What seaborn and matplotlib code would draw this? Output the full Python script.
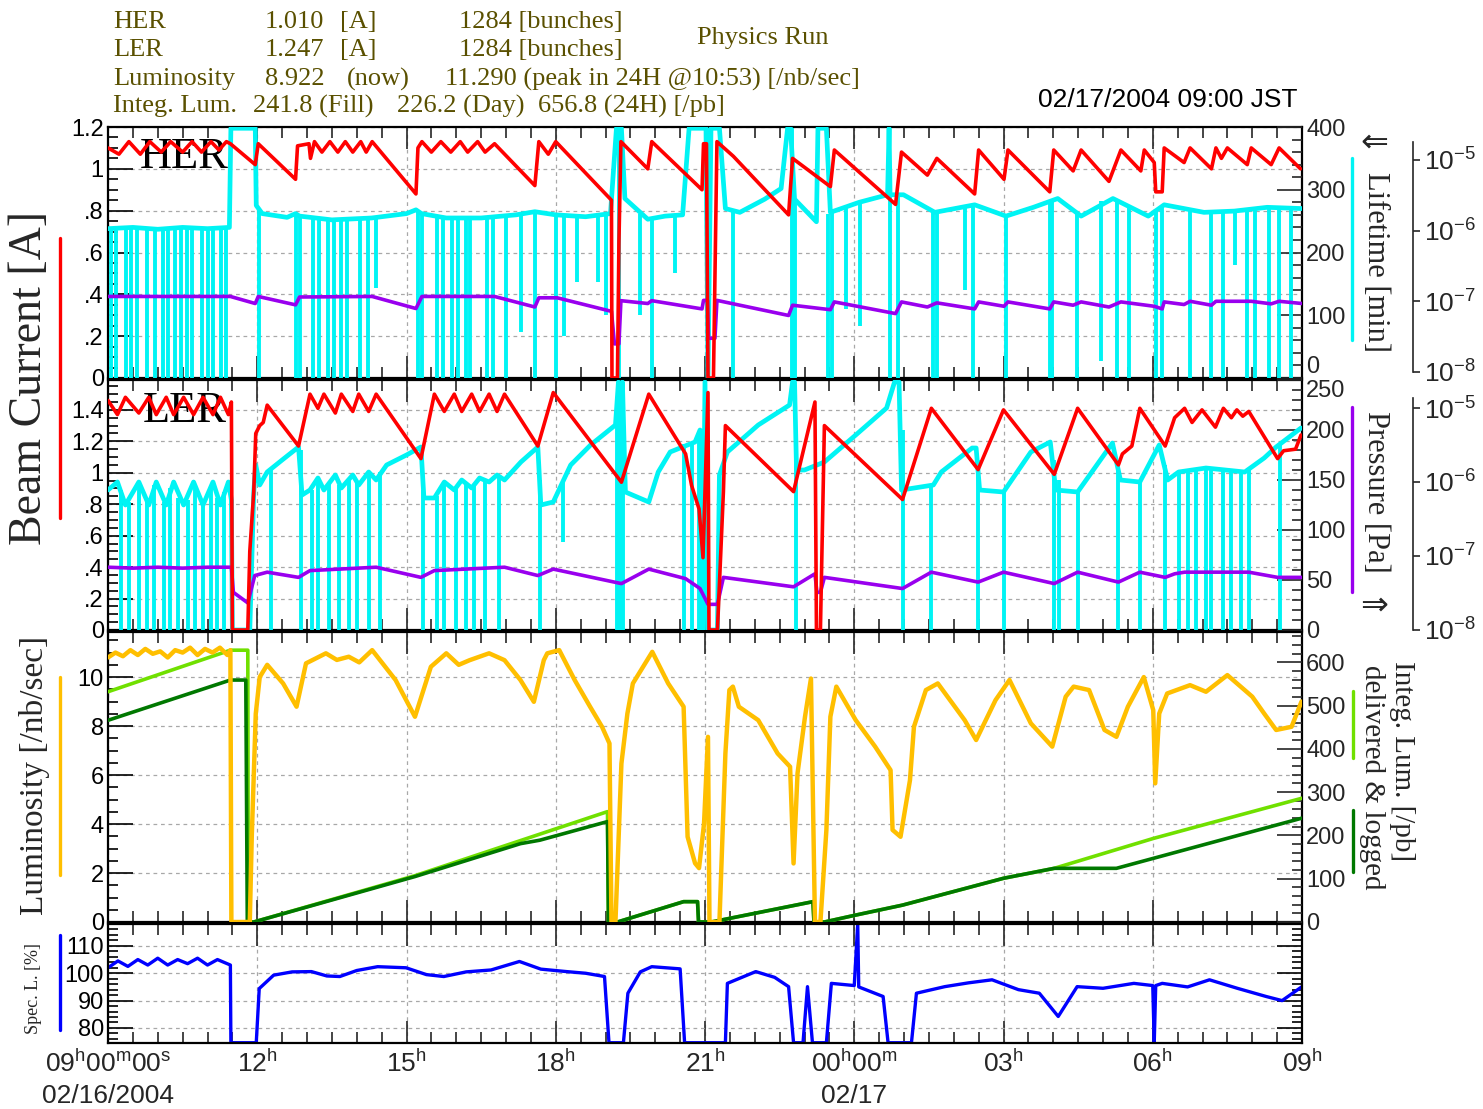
import numpy as np
import matplotlib
matplotlib.use("Agg")
import matplotlib.pyplot as plt
from matplotlib.lines import Line2D
from matplotlib.ticker import MultipleLocator, FixedLocator, NullLocator, LogFormatterSciNotation
import seaborn as sns

# ------------------------------------------------------------------
# Data.  Time = hours after 09:00 JST 02/16/2004
# ------------------------------------------------------------------
HER_CURRENT = [(0.00,1.10),(0.22,1.07),(0.42,1.13),(0.65,1.07),(0.84,1.13),(1.07,1.08),(1.26,1.13),(1.50,1.08),
 (1.69,1.13),(1.88,1.08),(2.07,1.13),(2.23,1.09),(2.38,1.13),(2.46,1.12),(2.96,1.02),(3.02,1.12),(3.77,0.95),
 (3.81,1.11),(4.04,1.12),(4.07,1.05),(4.15,1.13),(4.30,1.08),(4.46,1.13),(4.62,1.08),(4.77,1.13),(4.92,1.08),
 (5.08,1.13),(5.19,1.08),(5.31,1.13),(6.19,0.88),(6.23,1.10),(6.31,1.13),(6.50,1.08),(6.69,1.13),(6.89,1.08),
 (7.08,1.13),(7.23,1.08),(7.43,1.13),(7.58,1.08),(7.77,1.12),(8.58,0.92),(8.66,1.13),(8.85,1.07),(9.00,1.13),
 (10.12,0.85),(10.13,0.00),(10.24,0.00),(10.27,0.65),(10.31,1.13),(10.85,1.00),(10.93,1.13),(11.94,0.90),
 (11.97,1.12),(12.03,1.12),(12.06,0.00),(12.17,0.00),(12.24,1.13),(12.57,1.06),(13.68,0.78),(13.76,1.05),
 (14.52,0.915),(14.60,1.09),(15.83,0.83),(15.95,1.08),(16.47,0.97),(16.66,1.05),(17.42,0.88),(17.50,1.09),
 (18.01,0.95),(18.09,1.09),(18.93,0.89),(19.01,1.09),(19.40,0.99),(19.56,1.09),(20.12,0.94),(20.36,1.09),
 (20.76,0.99),(20.83,1.09),(21.03,1.03),(21.06,0.89),(21.19,0.89),(21.23,1.10),(21.63,1.03),(21.75,1.10),
 (22.18,1.00),(22.27,1.10),(22.38,1.05),(22.50,1.10),(22.90,1.02),(22.98,1.10),(23.38,1.02),(23.54,1.10),
 (23.97,1.00)]

HER_LIFETIME = [(0.00,238),(0.50,240),(1.00,237),(1.50,240),(2.00,238),(2.44,240),(2.47,398),(2.96,398),
 (2.98,275),(3.10,262),(3.60,256),(3.77,262),(3.85,258),(4.50,252),(5.30,255),(6.00,262),(6.19,268),(6.30,262),
 (6.80,255),(7.50,255),(8.20,260),(8.58,265),(9.00,260),(9.60,257),(10.10,262),(10.22,398),(10.32,398),
 (10.39,286),(10.85,253),(11.20,258),(11.55,260),(11.68,398),(12.02,398),(12.06,0),(12.12,398),(12.29,398),
 (12.41,270),(12.70,264),(13.20,285),(13.53,302),(13.66,398),(13.72,398),(13.80,285),(14.24,249),(14.27,398),
 (14.44,398),(14.52,264),(15.10,280),(15.67,292),(15.70,398),(15.72,292),(15.99,292),(16.62,264),(17.42,276),
 (18.05,258),(18.60,272),(19.09,286),(19.56,258),(20.20,286),(20.91,258),(21.23,276),(22.03,264),(22.64,266),
 (23.30,272),(24.00,270)]

# (time, bottom of the drop [min], level before the drop [min])
HER_DROPS = [(0.06,0,238),(0.16,0,238),(0.36,0,239),(0.46,0,239),(0.58,0,240),(0.78,0,239),(0.94,0,238),
 (1.10,0,238),(1.20,0,237),(1.34,0,238),(1.46,0,239),(1.58,0,240),(1.68,0,240),(1.88,0,239),(2.00,0,238),
 (2.12,0,238),(2.28,0,239),(2.38,0,240),(3.04,0,270),(3.78,0,262),(3.86,0,258),(4.12,0,256),(4.24,0,255),
 (4.42,0,253),(4.54,0,252),(4.68,0,252),(4.80,0,252),(5.07,0,254),(5.22,0,255),(5.39,143,256),(6.23,0,266),
 (6.31,0,262),(6.61,0,258),(6.73,0,256),(6.91,0,255),(7.03,0,255),(7.20,0,255),(7.28,0,255),(7.62,0,256),
 (7.74,0,257),(8.00,0,258),(8.30,73,262),(8.58,0,265),(9.00,0,260),(9.16,67,259),(9.43,153,257),(9.85,153,259),
 (10.00,100,261),(10.27,0,398),(10.69,100,262),(10.93,0,257),(11.39,167,259),(12.06,0,398),(12.57,0,266),
 (13.74,0,398),(13.80,0,285),(14.48,0,262),(14.55,0,265),(14.83,110,272),(15.12,83,280),(15.71,0,292),
 (15.87,0,292),(16.58,0,266),(16.66,0,265),(17.23,140,275),(17.38,0,276),(18.05,0,258),(18.93,0,282),
 (18.97,0,283),(19.48,0,262),(19.96,27,282),(20.28,0,285),(20.52,0,276),(21.07,0,268),(21.19,0,275),
 (21.75,0,271),(22.18,0,265),(22.42,0,265),(22.66,180,266),(22.89,0,267),(23.05,0,268),(23.33,0,270),
 (23.54,0,270),(23.78,0,270)]

HER_PRESSURE = [(0.00,1.17e-7),(2.46,1.17e-7),(2.96,0.93e-7),(3.02,1.17e-7),(3.77,0.89e-7),(3.85,1.15e-7),
 (5.31,1.17e-7),(6.19,0.79e-7),(6.31,1.17e-7),(7.77,1.17e-7),(8.58,0.83e-7),(8.66,1.12e-7),(9.03,1.12e-7),
 (10.12,0.72e-7),(10.18,2.5e-8),(10.27,2.5e-8),(10.31,1.02e-7),(10.85,0.93e-7),(10.93,1.02e-7),(11.94,0.78e-7),
 (11.97,1.03e-7),(12.05,1.03e-7),(12.07,3.0e-8),(12.20,3.0e-8),(12.24,1.03e-7),(13.68,0.63e-7),(13.76,0.88e-7),
 (14.52,0.76e-7),(14.60,0.98e-7),(15.83,0.67e-7),(15.95,0.98e-7),(16.47,0.83e-7),(16.66,0.95e-7),(17.42,0.78e-7),
 (17.50,0.98e-7),(18.01,0.85e-7),(18.09,0.98e-7),(18.93,0.78e-7),(19.01,0.98e-7),(19.40,0.88e-7),(19.56,0.98e-7),
 (20.12,0.83e-7),(20.36,0.98e-7),(21.03,0.85e-7),(21.19,0.78e-7),(21.23,0.98e-7),(21.63,0.90e-7),(21.75,1.00e-7),
 (22.18,0.88e-7),(22.27,1.00e-7),(22.98,1.00e-7),(23.38,0.92e-7),(23.54,1.00e-7),(24.00,0.93e-7)]

LER_CURRENT = [(0.00,1.46),(0.19,1.37),(0.35,1.48),(0.62,1.38),(0.82,1.48),(0.97,1.37),(1.17,1.48),(1.32,1.37),
 (1.52,1.48),(1.72,1.37),(1.91,1.48),(2.11,1.37),(2.26,1.48),(2.42,1.37),(2.48,1.45),(2.50,0.00),(2.81,0.00),
 (2.85,0.50),(2.93,0.88),(2.97,1.25),(3.05,1.30),(3.12,1.32),(3.20,1.43),(3.83,1.17),(4.06,1.50),(4.22,1.41),
 (4.34,1.50),(4.57,1.38),(4.69,1.50),(4.92,1.39),(5.04,1.50),(5.24,1.39),(5.39,1.50),(6.29,1.09),(6.56,1.50),
 (6.76,1.39),(6.96,1.50),(7.11,1.39),(7.31,1.50),(7.47,1.39),(7.66,1.50),(7.82,1.39),(7.97,1.50),(8.64,1.17),
 (8.95,1.51),(10.32,0.94),(10.87,1.50),(11.61,1.12),(11.73,0.92),(11.88,0.77),(11.96,0.46),(12.06,1.51),
 (12.08,0.00),(12.25,0.00),(12.37,0.88),(12.41,1.30),(13.78,0.88),(14.21,1.45),(14.24,0.00),(14.32,0.00),
 (14.40,1.30),(15.97,0.83),(16.55,1.41),(17.49,1.02),(18.00,1.40),(19.02,0.99),(19.49,1.41),(20.31,1.05),
 (20.39,1.12),(20.58,1.17),(20.74,1.41),(21.25,1.17),(21.44,1.35),(21.64,1.41),(21.79,1.32),(21.99,1.40),
 (22.26,1.29),(22.42,1.41),(22.58,1.35),(22.69,1.40),(22.81,1.36),(22.93,1.39),(23.51,1.09),(23.63,1.14),
 (23.87,1.15),(23.98,1.24)]

LER_LIFETIME = [(0.00,140),(0.19,148),(0.35,125),(0.62,148),(0.82,125),(0.97,148),(1.17,125),(1.32,148),
 (1.52,125),(1.72,148),(1.91,125),(2.11,148),(2.26,125),(2.42,148),(2.48,130),(2.50,0),(2.85,0),(2.93,138),
 (2.97,165),(3.05,145),(3.20,158),(3.50,170),(3.83,183),(3.90,135),(4.06,140),(4.22,152),(4.34,140),(4.57,155),
 (4.69,142),(4.92,155),(5.04,145),(5.24,158),(5.39,150),(5.60,165),(6.00,175),(6.29,183),(6.35,132),(6.56,132),
 (6.76,148),(6.96,140),(7.11,150),(7.31,142),(7.47,152),(7.66,148),(7.82,155),(7.97,150),(8.30,168),(8.64,183),
 (8.70,125),(8.95,128),(9.30,165),(9.70,185),(10.20,205),(10.26,248),(10.30,0),(10.34,248),(10.40,138),
 (10.87,128),(11.06,158),(11.30,178),(11.80,188),(11.90,200),(11.95,0),(12.00,248),(12.05,0),(12.25,0),
 (12.29,155),(12.45,178),(13.07,205),(13.70,225),(13.76,248),(13.80,248),(13.84,160),(14.00,160),(14.40,168),
 (15.03,195),(15.65,222),(15.81,248),(15.90,248),(15.95,140),(16.59,145),(16.75,158),(17.37,182),(17.45,182),
 (17.52,140),(18.00,138),(18.55,178),(18.94,188),(19.05,140),(19.49,138),(20.19,187),(20.35,150),(20.74,148),
 (21.13,185),(21.30,150),(21.52,158),(22.07,162),(22.85,158),(23.24,172),(23.48,183),(23.98,202)]

LER_DROPS = [(0.27,0,140),(0.43,0,128),(0.62,0,146),(0.78,0,130),(0.93,0,145),(1.13,0,128),(1.25,0,142),
 (1.40,0,132),(1.60,0,130),(1.75,0,146),(1.91,0,127),(2.07,0,145),(2.19,0,132),(2.34,0,138),(3.28,0,160),
 (3.87,0,180),(4.10,0,140),(4.22,0,150),(4.45,0,146),(4.65,0,145),(4.84,0,152),(5.00,0,147),(5.24,0,156),
 (5.47,0,158),(6.33,0,140),(6.61,0,134),(6.76,0,146),(7.00,0,143),(7.19,0,146),(7.35,0,145),(7.58,0,149),
 (7.86,0,152),(8.68,0,150),(9.15,88,150),(10.24,0,203),(10.36,0,190),(11.57,0,186),(11.73,0,187),(11.88,0,195),
 (13.82,0,200),(15.97,0,200),(16.55,0,144),(17.49,0,170),(18.00,0,138),(19.02,0,170),(19.12,0,150),
 (19.49,0,138),(20.31,0,170),(20.74,0,148),(21.25,0,165),(21.52,0,158),(21.71,0,159),(21.87,0,160),
 (22.07,0,162),(22.18,0,161),(22.42,0,160),(22.58,0,159),(22.77,0,158),(22.93,0,160),(23.55,0,186)]

LER_PRESSURE = [(0.00,7.0e-8),(0.50,6.8e-8),(1.00,7.0e-8),(1.50,6.8e-8),(2.00,7.0e-8),(2.48,7.0e-8),
 (2.52,3.2e-8),(2.81,2.3e-8),(2.95,5.4e-8),(3.20,6.0e-8),(3.83,5.1e-8),(4.06,6.3e-8),(5.39,7.0e-8),(6.29,5.1e-8),
 (6.56,6.3e-8),(7.97,7.0e-8),(8.64,5.4e-8),(8.95,6.6e-8),(10.32,4.2e-8),(10.87,6.6e-8),(11.61,4.9e-8),
 (11.90,3.6e-8),(12.06,2.2e-8),(12.25,2.2e-8),(12.37,5.1e-8),(13.78,3.8e-8),(14.21,5.7e-8),(14.25,3.2e-8),
 (14.32,3.2e-8),(14.40,5.1e-8),(15.97,3.6e-8),(16.55,6.0e-8),(17.49,4.4e-8),(18.00,6.0e-8),(19.02,4.2e-8),
 (19.49,6.0e-8),(20.31,4.4e-8),(20.74,6.0e-8),(21.25,5.1e-8),(21.44,5.7e-8),(21.64,6.0e-8),(22.93,6.0e-8),
 (23.51,5.1e-8),(24.00,5.1e-8)]

LUMINOSITY = [(0.00,10.8),(0.15,11.0),(0.30,10.85),(0.45,11.1),(0.60,10.9),(0.75,11.15),(0.90,10.95),(1.05,11.05),
 (1.20,10.8),(1.35,11.1),(1.50,11.0),(1.65,11.2),(1.80,10.9),(1.95,11.15),(2.10,11.0),(2.25,11.2),(2.40,10.9),
 (2.46,11.1),(2.48,0.0),(2.85,0.0),(2.89,3.5),(2.97,8.5),(3.05,10.0),(3.20,10.5),(3.52,9.74),(3.79,8.79),
 (3.98,10.56),(4.38,10.97),(4.60,10.7),(4.84,10.83),(5.05,10.6),(5.31,11.1),(5.78,9.88),(6.17,8.38),(6.49,10.42),
 (6.80,10.97),(7.05,10.5),(7.27,10.69),(7.66,10.97),(7.97,10.69),(8.29,9.88),(8.56,8.99),(8.76,10.69),
 (8.83,10.97),(9.07,11.1),(9.38,9.88),(9.69,8.79),(9.93,7.97),(10.08,7.29),(10.12,0.0),(10.20,0.0),(10.32,6.47),
 (10.44,8.51),(10.55,9.74),(10.94,11.03),(11.26,9.74),(11.57,8.79),(11.65,3.48),(11.80,2.4),(11.88,2.2),
 (11.98,4.0),(12.06,7.56),(12.09,0.0),(12.29,0.0),(12.41,6.88),(12.49,9.47),(12.56,9.61),(12.68,8.79),
 (13.07,8.24),(13.46,6.88),(13.71,6.34),(13.78,2.39),(13.86,6.07),(14.01,8.38),(14.13,9.94),(14.21,0.0),
 (14.32,0.0),(14.44,3.76),(14.52,8.38),(14.64,9.61),(15.03,8.24),(15.42,7.16),(15.73,6.20),(15.77,3.76),
 (15.93,3.48),(16.12,5.79),(16.20,7.97),(16.44,9.47),(16.68,9.74),(17.22,8.24),(17.45,7.43),(17.84,9.06),
 (18.12,9.88),(18.55,8.11),(18.98,7.16),(19.25,9.2),(19.41,9.61),(19.72,9.47),(20.03,7.84),(20.27,7.56),
 (20.50,8.79),(20.82,10.0),(21.01,8.65),(21.05,5.66),(21.13,8.51),(21.29,9.33),(21.75,9.67),(22.07,9.40),
 (22.50,10.08),(23.00,9.2),(23.24,8.51),(23.48,7.84),(23.79,7.97),(23.99,9.0)]

INTEG_DELIVERED = [(0.00,532),(2.46,628),(2.81,628),(2.82,0),(2.93,0),(6.17,107),(10.04,255),(10.06,0),
 (10.24,0),(11.57,47),(11.85,47),(11.87,0),(12.13,0),(14.17,47),(14.19,0),(14.40,0),(15.03,16),(15.97,39),
 (18.00,101),(19.02,124),(21.01,193),(24.00,286)]

INTEG_LOGGED = [(0.00,466),(2.46,559),(2.77,559),(2.80,0),(2.93,0),(6.17,105),(8.29,181),(8.68,189),(10.04,232),
 (10.06,0),(10.24,0),(11.57,47),(11.85,47),(11.87,0),(12.13,0),(14.17,47),(14.19,0),(14.40,0),(15.03,16),
 (15.97,39),(18.00,101),(19.02,124),(20.27,124),(24.00,240)]

SPEC_LUMI = [(0.00,102.0),(0.20,104.5),(0.40,102.5),(0.60,105.0),(0.80,103.0),(1.00,105.5),(1.20,103.0),
 (1.40,105.0),(1.60,103.5),(1.80,105.5),(2.00,103.0),(2.20,105.0),(2.46,103.0),(2.47,74.6),(2.98,74.6),
 (3.04,94.4),(3.33,99.3),(3.70,100.5),(4.09,100.6),(4.40,99.0),(4.66,98.8),(5.00,101.0),(5.42,102.4),(5.99,102.0),
 (6.40,99.5),(6.75,98.8),(7.20,100.5),(7.70,101.2),(8.27,104.3),(8.70,101.5),(9.22,100.6),(9.60,100.0),
 (9.98,98.8),(10.07,74.6),(10.36,74.6),(10.45,92.7),(10.70,100.5),(10.93,102.4),(11.50,101.6),(11.59,74.6),
 (12.41,74.6),(12.45,96.3),(13.02,100.6),(13.40,98.5),(13.68,95.1),(13.78,74.6),(13.97,74.6),(14.06,95.1),
 (14.16,74.6),(14.44,74.6),(14.54,96.3),(15.00,95.5),(15.07,118.0),(15.09,95.0),(15.30,93.5),(15.58,91.5),
 (15.68,74.6),(16.15,74.6),(16.25,92.7),(16.82,95.1),(17.30,96.5),(17.77,97.6),(18.30,94.0),(18.72,92.7),
 (19.10,84.2),(19.48,95.1),(20.00,94.5),(20.62,96.3),(21.00,95.5),(21.03,74.6),(21.06,95.5),(21.19,96.3),
 (21.70,95.0),(22.14,97.6),(22.70,94.5),(23.28,91.5),(23.60,90.0),(24.00,95.1)]

TIME_TICKS = [0, 3, 6, 9, 12, 15, 18, 21, 24]
TIME_LABELS = [r"09$^{h}$00$^{m}$00$^{s}$" + "\n02/16/2004", r"12$^{h}$", r"15$^{h}$", r"18$^{h}$",
               r"21$^{h}$", r"00$^{h}$00$^{m}$" + "\n02/17", r"03$^{h}$", r"06$^{h}$", r"09$^{h}$"]
HER_TICKS, HER_TICKLABELS = [0, 0.2, 0.4, 0.6, 0.8, 1.0, 1.2], ["0", ".2", ".4", ".6", ".8", "1", "1.2"]
LER_TICKS, LER_TICKLABELS = [0, 0.2, 0.4, 0.6, 0.8, 1.0, 1.2, 1.4], ["0", ".2", ".4", ".6", ".8", "1", "1.2", "1.4"]
HEADER_ROWS = [("HER", "1.010", "[A]", "1284 [bunches]"),
               ("LER", "1.247", "[A]", "1284 [bunches]"),
               ("Luminosity", "8.922", "(now)", "11.290 (peak in 24H @10:53) [/nb/sec]"),
               ("Integ. Lum.", "241.8 (Fill)", "226.2 (Day)", "656.8 (24H) [/pb]")]

# ------------------------------------------------------------------
sns.set_style("white")
SANS = ["Liberation Sans", "DejaVu Sans"]
SERIF = ["Liberation Serif", "DejaVu Serif"]
plt.rcParams["font.family"] = SANS
plt.rcParams["mathtext.fontset"] = "custom"
plt.rcParams["mathtext.rm"] = "Liberation Sans"
plt.rcParams["mathtext.it"] = "Liberation Sans"
plt.rcParams["mathtext.bf"] = "Liberation Sans"
plt.rcParams["mathtext.default"] = "regular"

RED, CYAN, PURPLE = "#ff0000", "#00f4f4", "#9900ee"
YELLOW, LGREEN, DGREEN, BLUE = "#ffbf00", "#70e000", "#007800", "#0000ff"
OLIVE = "#5a5000"

W, H = 1483, 1109
fig = plt.figure(figsize=(W / 100, H / 100), dpi=100, facecolor="white")


def rect(top, bot):
    return [108 / W, 1 - bot / H, 1194 / W, (bot - top) / H]


ax1 = fig.add_axes(rect(127, 378))
ax2 = fig.add_axes(rect(380, 630), sharex=ax1)
ax3 = fig.add_axes(rect(632, 922), sharex=ax1)
ax4 = fig.add_axes(rect(924, 1043), sharex=ax1)


def draw(ax, pts, color, lw):
    a = np.array(pts, dtype=float)
    sns.lineplot(x=a[:, 0], y=a[:, 1], ax=ax, color=color, linewidth=lw,
                 sort=False, estimator=None, legend=False)


def drops(ax, sp, color, lw):
    a = np.array(sp, dtype=float)
    ax.vlines(a[:, 0], a[:, 1], a[:, 2], colors=color, linewidth=lw)


def base_style(ax, ylim, ticks, labels, minor):
    ax.set_ylim(*ylim)
    ax.set_yticks(ticks)
    ax.set_yticklabels(labels)
    ax.yaxis.set_minor_locator(MultipleLocator(minor))
    ax.tick_params(axis="y", which="both", direction="in", left=True, right=False,
                   labelsize=17, pad=3, width=1.2, colors="black")
    ax.tick_params(axis="y", which="major", length=18)
    ax.tick_params(axis="y", which="minor", length=7)
    ax.tick_params(axis="x", which="both", direction="in", top=True, bottom=True,
                   labelbottom=False, width=1.2)
    ax.tick_params(axis="x", which="major", length=16)
    ax.tick_params(axis="x", which="minor", length=8)
    ax.grid(True, which="major", color="#a8a8a8", linestyle=(0, (3, 3)), linewidth=0.9)
    for s in ax.spines.values():
        s.set_visible(True)
        s.set_linewidth(1.6)
        s.set_color("black")


def layer(base, ylim, z, log=False):
    t = base.twinx()
    if log:
        t.set_yscale("log")
    t.set_ylim(*ylim)
    t.set_zorder(z)
    t.patch.set_visible(False)
    for s in t.spines.values():
        s.set_visible(False)
    t.tick_params(axis="y", which="both", right=False, labelright=False, left=False)
    return t


def right_scale(t, ticks, minor):
    t.set_yticks(ticks)
    t.yaxis.set_minor_locator(MultipleLocator(minor))
    t.tick_params(axis="y", which="both", direction="in", right=True, labelright=True,
                  labelsize=17, pad=3, width=1.2)
    t.tick_params(axis="y", which="major", length=18)
    t.tick_params(axis="y", which="minor", length=7)


def pressure_scale(t, top_bound):
    sp = t.spines["right"]
    sp.set_visible(True)
    sp.set_position(("axes", 1.093))
    sp.set_bounds(1e-8, top_bound)
    sp.set_linewidth(1.2)
    t.yaxis.set_major_locator(FixedLocator([1e-8, 1e-7, 1e-6, 1e-5]))
    t.yaxis.set_major_formatter(LogFormatterSciNotation())
    t.yaxis.set_minor_locator(NullLocator())
    t.tick_params(axis="y", which="major", direction="out", right=True, labelright=True,
                  length=5, width=1.2, labelsize=19, pad=3)


# ---------------- panel 1 : HER ----------------
base_style(ax1, (0, 1.2), HER_TICKS, HER_TICKLABELS, 0.05)
l1 = layer(ax1, (0, 400), 1)
right_scale(l1, [0, 100, 200, 300, 400], 20)
drops(l1, HER_DROPS, CYAN, 2.8)
draw(l1, HER_LIFETIME, CYAN, 3.4)
p1 = layer(ax1, (10 ** -8.085, 10 ** -4.535), 2, log=True)
pressure_scale(p1, 1.8e-5)
draw(p1, HER_PRESSURE, PURPLE, 2.6)
c1 = layer(ax1, (0, 1.2), 3)
draw(c1, HER_CURRENT, RED, 2.6)
ax1.text(140 / W, 1 - 157 / H, "HER", transform=fig.transFigure, family=SERIF,
         fontsize=32, va="center", ha="left", color="black")

# ---------------- panel 2 : LER ----------------
base_style(ax2, (0, 1.59), LER_TICKS, LER_TICKLABELS, 0.05)
l2 = layer(ax2, (0, 250), 1)
right_scale(l2, [0, 50, 100, 150, 200, 250], 10)
drops(l2, LER_DROPS, CYAN, 2.8)
draw(l2, LER_LIFETIME, CYAN, 3.4)
p2 = layer(ax2, (10 ** -8.005, 10 ** -4.62), 2, log=True)
pressure_scale(p2, 1.35e-5)
draw(p2, LER_PRESSURE, PURPLE, 2.6)
c2 = layer(ax2, (0, 1.59), 3)
draw(c2, LER_CURRENT, RED, 2.6)
ax2.text(143 / W, 1 - 411 / H, "LER", transform=fig.transFigure, family=SERIF,
         fontsize=32, va="center", ha="left", color="black")

# ---------------- panel 3 : luminosity ----------------
base_style(ax3, (0, 11.84), [0, 2, 4, 6, 8, 10], ["0", "2", "4", "6", "8", "10"], 0.5)
i3 = layer(ax3, (0, 670), 1)
right_scale(i3, [0, 100, 200, 300, 400, 500, 600], 20)
draw(i3, INTEG_DELIVERED, LGREEN, 2.6)
draw(i3, INTEG_LOGGED, DGREEN, 2.6)
y3 = layer(ax3, (0, 11.84), 2)
draw(y3, LUMINOSITY, YELLOW, 3.2)

# ---------------- panel 4 : specific luminosity ----------------
base_style(ax4, (74.5, 118), [80, 90, 100, 110], ["80", "90", "100", "110"], 2)
ax4.tick_params(axis="y", which="both", right=True)
draw(ax4, SPEC_LUMI, BLUE, 2.4)

for a in (ax1, ax2, ax3, ax4, l1, p1, c1, l2, p2, c2, i3, y3):
    a.set_xlim(0, 24)
ax4.xaxis.set_minor_locator(MultipleLocator(0.5))
ax4.set_xticks(TIME_TICKS)
ax4.set_xticklabels(TIME_LABELS)
ax4.tick_params(axis="x", labelbottom=True, labelsize=19, pad=5)
for lab in ax4.get_xticklabels():
    lab.set_linespacing(1.35)
for a in (ax1, ax2, ax3, ax4, l1, p1, c1, l2, p2, c2, i3, y3):
    a.set_xlabel("")
    a.set_ylabel("")

# end labels that sit on the panel joint
l1.get_yticklabels()[0].set_va("bottom")
l2.get_yticklabels()[-1].set_va("top")


# ---------------- figure texts ----------------
def ftext(x, y, s, **kw):
    fig.text(x / W, 1 - y / H, s, **kw)


def fline(x, y0, y1, color):
    fig.add_artist(Line2D([x / W, x / W], [1 - y0 / H, 1 - y1 / H], color=color, lw=2.4,
                          transform=fig.transFigure))


hdr = dict(family=SERIF, fontsize=19, color=OLIVE, va="center", ha="left")
row_y = [22, 50, 79, 106]
col_x = [[113, 265, 340, 459], [113, 265, 340, 459], [113, 265, 347, 445], [113, 253, 397, 538]]
for (cells, y, xs) in zip(HEADER_ROWS, row_y, col_x):
    for c, x in zip(cells, xs):
        ftext(x, y, c, **hdr)
ftext(697, 38, "Physics Run", **hdr)
ftext(1298, 100, "02/17/2004 09:00 JST", family=SANS, fontsize=19, color="black", ha="right", va="center")

ftext(30, 378, "Beam Current [A]", family=SERIF, fontsize=33, rotation=90, ha="center", va="center")
ftext(35, 775, "Luminosity [/nb/sec]", family=SERIF, fontsize=24, rotation=90, ha="center", va="center")
ftext(33, 988, "Spec. L. [%]", family=SERIF, fontsize=13, rotation=90, ha="center", va="center")
fline(60, 238, 518, RED)
fline(60, 677, 875, YELLOW)
fline(60, 935, 1030, BLUE)

ftext(1374, 142, "\u21d0", family=["DejaVu Sans"], fontsize=24, ha="center", va="center", rotation=0)
ftext(1376, 262, "Lifetime [min]", family=SERIF, fontsize=22, rotation=270, ha="center", va="center")
ftext(1376, 492, "Pressure [Pa]", family=SERIF, fontsize=22, rotation=270, ha="center", va="center")
ftext(1374, 605, "\u21d2", family=["DejaVu Sans"], fontsize=24, ha="center", va="center", rotation=0)
ftext(1402, 761, "Integ. Lum. [/pb]", family=SERIF, fontsize=21, rotation=270, ha="center", va="center")
ftext(1372, 777, "delivered & logged", family=SERIF, fontsize=21, rotation=270, ha="center", va="center")
fline(1352, 158, 340, CYAN)
fline(1352, 407, 592, PURPLE)
fline(1353, 691, 758, LGREEN)
fline(1353, 810, 872, DGREEN)

fig.savefig("out.png", dpi=100, facecolor="white")
